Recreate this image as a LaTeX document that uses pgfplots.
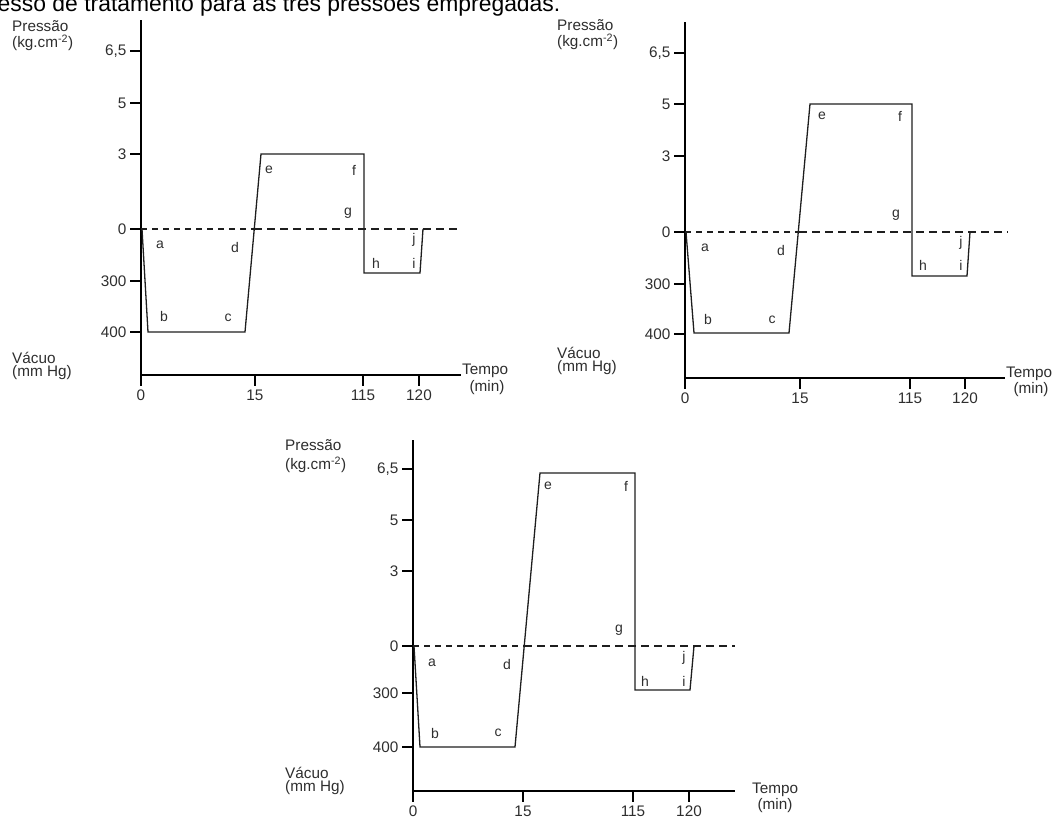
\documentclass[border=0pt]{standalone}
\usepackage{pgfplots}
\pgfplotsset{compat=1.18}
\usepackage{fontspec}
\setmainfont{Liberation Sans}
\definecolor{txt}{HTML}{2E2E2E}
\definecolor{ln}{HTML}{1E1E1E}
\newcommand{\lf}{\fontsize{15.3}{17}\selectfont}
\newcommand{\T}[4][]{\node[inner sep=0pt,text=txt,font=\lf,#1] at ({#2*1pt},{(821-#3)*1pt}) {#4};}
\newcommand{\lt}[3]{\node[inner sep=0pt,text=txt,font=\fontsize{14}{16}\selectfont] at ({#1*1pt},{(821-#2)*1pt}) {#3};}
\pgfplotsset{
  panel/.style={
    anchor=south west, scale only axis, x=1pt, y=1pt,
    xmin=0, xmax=320, ymin=0,
    axis lines=left, axis line style={-, line width=2.6pt, black},
    clip=false,
    xticklabels={0,15,115,120}, yticklabels={400,300,0,3,5,{6,5}},
    tick align=outside, major tick length=11pt,
    tick style={line width=1.3pt, black},
    ticklabel style={font=\lf, text=txt},
  },
  curve/.style={ln, line width=1.3pt, line join=miter},
  dthin/.style={ln, line width=1.1pt, dash pattern=on 6pt off 5pt},
  dthick/.style={ln, line width=2pt, dash pattern=on 8pt off 5pt},
}
\begin{document}
\begin{tikzpicture}
\useasboundingbox (0,0) rectangle (1060pt,821pt);
\clip (0,0) rectangle (1060pt,821pt);
% title (cut at top)
\node[anchor=base west, inner sep=0pt, font=\fontsize{22.9}{26}\selectfont] at (-47pt,{(821-12)*1pt}) {processo de tratamento para as três pressões empregadas.};

% ---------- panel 1 ----------
\begin{axis}[panel, at={(141pt,446pt)}, ymax=355,
  xtick={0,114,222,278}, ytick={43,94,146,221,272,324}]
\addplot[curve] coordinates {(1,146) (7,43) (104,43) (120,221) (223,221) (223,102) (279,102) (282,146)};
\addplot[dthin] coordinates {(0,146) (113,146)};
\addplot[dthick] coordinates {(113,146) (319,146)};
\draw[line width=2.6pt] (axis cs:0,1) -- (axis cs:0,-9);
\end{axis}
\T[anchor=west]{12}{26}{Pressão}
\T[anchor=west]{12}{43}{(kg.cm\textsuperscript{-2})}
\T[anchor=west]{12}{358}{Vácuo}
\T[anchor=west]{12}{373}{(mm Hg)}
\T[anchor=west]{462}{371}{Tempo}
\T{487}{388}{(min)}
\lt{160}{245}{a}\lt{164}{317}{b}\lt{228}{318}{c}\lt{235}{248}{d}\lt{269}{170}{e}
\lt{354}{170}{f}\lt{348}{213}{g}\lt{376}{263}{h}\lt{414}{263}{i}\lt{414}{240}{j}

% ---------- panel 2 ----------
\begin{axis}[panel, at={(685pt,443pt)}, ymax=356,
  xtick={0,115,225,280}, ytick={44,94,146,222,274,325}]
\addplot[curve] coordinates {(1,146) (9,45) (104,45) (125,274) (227,274) (227,102) (282,102) (285,146)};
\addplot[dthin] coordinates {(0,146) (114,146)};
\addplot[dthick] coordinates {(114,146) (323,146)};
\draw[line width=2.6pt] (axis cs:0,1) -- (axis cs:0,-9);
\end{axis}
\T[anchor=west]{557}{25}{Pressão}
\T[anchor=west]{557}{42}{(kg.cm\textsuperscript{-2})}
\T[anchor=west]{557}{353}{Vácuo}
\T[anchor=west]{557}{368}{(mm Hg)}
\T[anchor=west]{1006}{374}{Tempo}
\T{1031}{390}{(min)}
\lt{705}{248}{a}\lt{708}{320}{b}\lt{772}{320}{c}\lt{781}{251}{d}\lt{822}{116}{e}
\lt{900}{116}{f}\lt{896}{215}{g}\lt{923}{265}{h}\lt{961}{265}{i}\lt{961}{243}{j}

% ---------- panel 3 ----------
\begin{axis}[panel, at={(413pt,30pt)}, ymax=351, xmax=322,
  xtick={0,110,220,276}, ytick={44,98,145,220,271,322}]
\addplot[curve] coordinates {(1,145) (7,44) (102,44) (127,318) (222,318) (222,101) (277,101) (281,145)};
\addplot[dthin] coordinates {(0,145) (111,145)};
\addplot[dthick] coordinates {(111,145) (322,145)};
\draw[line width=2.6pt] (axis cs:0,1) -- (axis cs:0,-9);
\end{axis}
\T[anchor=west]{285}{445}{Pressão}
\T[anchor=west]{285}{465}{(kg.cm\textsuperscript{-2})}
\T[anchor=west]{285}{773}{Vácuo}
\T[anchor=west]{285}{788}{(mm Hg)}
\T[anchor=west]{752}{790}{Tempo}
\T{775}{806}{(min)}
\lt{432}{663}{a}\lt{435}{733}{b}\lt{498}{733}{c}\lt{507}{665}{d}\lt{548}{486}{e}
\lt{626}{486}{f}\lt{619}{630}{g}\lt{645}{681}{h}\lt{684}{681}{i}\lt{684}{658}{j}
\end{tikzpicture}
\end{document}
